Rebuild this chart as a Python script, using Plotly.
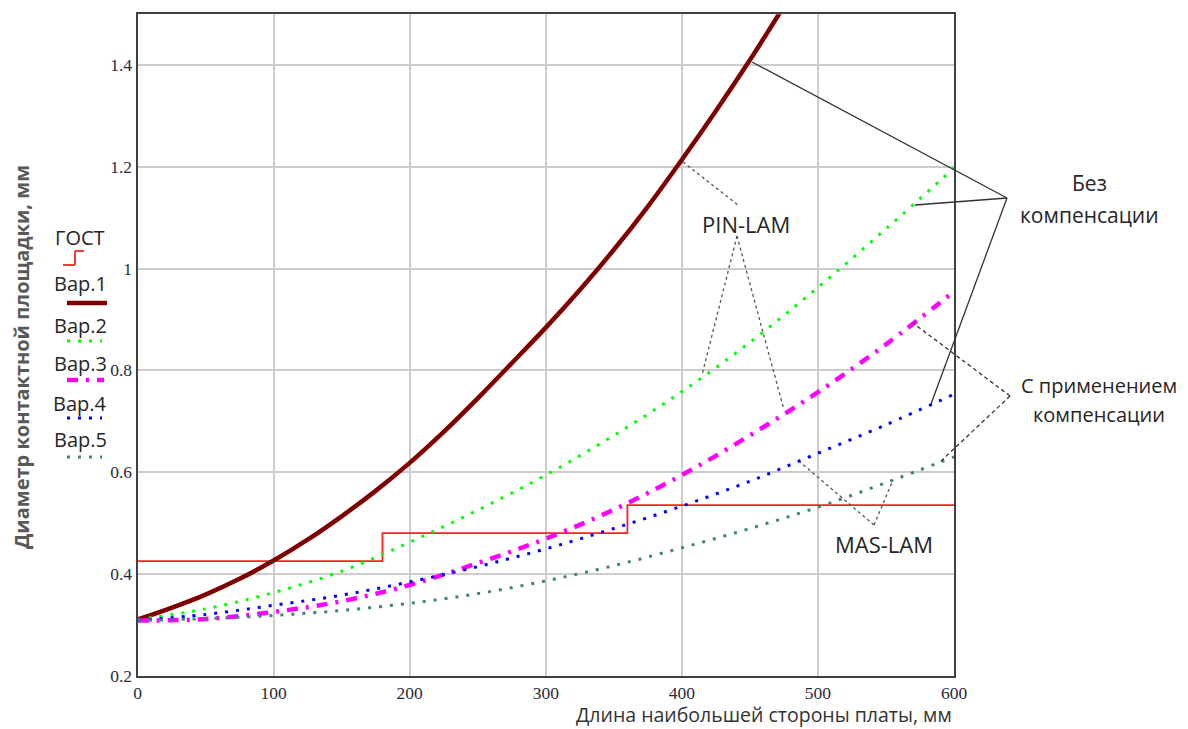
import plotly.graph_objects as go

# window is 1188x729, page body has an 8px margin -> figure drawn at offset 8
OFF = 8
W, H = 1180, 721

# ---------------- data ----------------
x_var1 = [0, 25, 50, 75, 100, 125, 150, 175, 200, 225, 250, 275, 300, 325,
          350, 375, 400, 425, 450, 475]
var1 = [0.310, 0.333, 0.359, 0.390, 0.426, 0.467, 0.513, 0.563, 0.618, 0.679,
        0.745, 0.814, 0.884, 0.958, 1.037, 1.122, 1.214, 1.310, 1.410, 1.516]

x_common = [0, 50, 100, 150, 200, 250, 300, 350, 400, 450, 500, 550, 600]
var2 = [0.310, 0.331, 0.363, 0.405, 0.462, 0.525, 0.594, 0.672, 0.758, 0.855, 0.963, 1.078, 1.198]
var3 = [0.308, 0.311, 0.325, 0.346, 0.378, 0.421, 0.469, 0.526, 0.594, 0.672, 0.757, 0.851, 0.955]
var4 = [0.308, 0.320, 0.338, 0.358, 0.384, 0.414, 0.449, 0.489, 0.533, 0.582, 0.637, 0.693, 0.753]
var5 = [0.308, 0.312, 0.318, 0.328, 0.342, 0.361, 0.386, 0.416, 0.451, 0.489, 0.531, 0.579, 0.630]

gost_x = [0, 180, 360, 600]
gost_y = [0.425, 0.480, 0.535, 0.535]

y_ticks = [0.2, 0.4, 0.6, 0.8, 1.0, 1.2, 1.4]
y_tick_text = ["0.2", "0.4", "0.6", "0.8", "1", "1.2", "1.4"]
x_ticks = [0, 100, 200, 300, 400, 500, 600]
x_tick_text = ["0", "100", "200", "300", "400", "500", "600"]

legend_names = ["ГОСТ", "Вар.1", "Вар.2", "Вар.3", "Вар.4", "Вар.5"]

# ---------------- styles ----------------
C_GOST = "#ff2020"
C1 = "#800000"
C2 = "#00ff00"
C3 = "#ff00ff"
C4 = "#0000ff"
C5 = "#408080"
DOTS = "3px,8px"
DASHDOT = "11px,8px,3px,8px"
TXT = "Open Sans"

# plot area in window pixels
PX0, PX1 = 137.5, 954.0
PY_TOP, PY_BOT = 14.3, 675.5


def px(x):
    return (x - OFF) / W


def py(y):
    return 1 - (y - OFF) / H


fig = go.Figure()
fig.add_trace(go.Scatter(x=gost_x, y=gost_y, mode="lines", line=dict(color=C_GOST, width=1.8, shape="hv")))
fig.add_trace(go.Scatter(x=x_var1, y=var1, mode="lines", line=dict(color=C1, width=4.5, shape="spline")))
fig.add_trace(go.Scatter(x=x_common, y=var2, mode="lines", line=dict(color=C2, width=3, dash=DOTS, shape="spline")))
fig.add_trace(go.Scatter(x=x_common, y=var3, mode="lines", line=dict(color=C3, width=4.5, dash=DASHDOT, shape="spline")))
fig.add_trace(go.Scatter(x=x_common, y=var4, mode="lines", line=dict(color=C4, width=3, dash=DOTS, shape="spline")))
fig.add_trace(go.Scatter(x=x_common, y=var5, mode="lines", line=dict(color=C5, width=3, dash=DOTS, shape="spline")))

shapes = []
annotations = []


def seg(x0, y0, x1, y1, dash="solid", width=1.3, color="#333333"):
    shapes.append(dict(type="line", xref="paper", yref="paper",
                       x0=px(x0), y0=py(y0), x1=px(x1), y1=py(y1),
                       line=dict(color=color, width=width, dash=dash)))


def text(t, x, y, size=20, color="#262626", bold=False, angle=0, yanchor="middle"):
    if bold:
        t = "<b>" + t + "</b>"
    annotations.append(dict(text=t, x=px(x), y=py(y), xref="paper", yref="paper",
                            showarrow=False, xanchor="center", yanchor=yanchor,
                            textangle=angle, borderpad=0,
                            font=dict(family=TXT, size=size, color=color)))


# ---- callout lines ----
# PIN-LAM
seg(683, 162, 738, 205, dash="dot", color="#555555")
seg(737, 236, 702, 375, dash="dot", color="#555555")
seg(737, 236, 784, 410, dash="dot", color="#555555")
# MAS-LAM
seg(874, 525, 800, 462, dash="dot", color="#555555")
seg(874, 525, 893, 480, dash="dot", color="#555555")
# Без компенсации
seg(1007, 198, 752, 62)
seg(1007, 198, 915, 205)
seg(1007, 198, 931, 404)
# С применением компенсации
seg(1010, 396, 913, 323, dash="4px,3px")
seg(1010, 396, 940, 462, dash="4px,3px")

text("PIN-LAM", 746, 224, size=22)
text("MAS-LAM", 884, 544, size=22)
text("Без", 1089, 183, size=21)
text("компенсации", 1089, 215, size=21)
text("С применением", 1099, 385, size=20)
text("компенсации", 1099, 414, size=20)

# ---- custom legend ----
legend_y = [237, 283, 325, 363, 403, 440]
for name, ly in zip(legend_names, legend_y):
    text(name, 80, ly, size=20)
# GOST step symbol
seg(63, 265, 75, 265, color=C_GOST, width=1.8)
seg(75, 265, 75, 251, color=C_GOST, width=1.8)
seg(75, 251, 84, 251, color=C_GOST, width=1.8)
seg(67, 303, 107, 303, color=C1, width=4.5)
seg(67, 341, 102, 341, color=C2, width=3, dash=DOTS)
seg(67, 380, 104, 380, color=C3, width=4.5, dash=DASHDOT)
seg(67, 418, 102, 418, color=C4, width=3, dash=DOTS)
seg(67, 457, 102, 457, color=C5, width=3, dash=DOTS)

# ---- axis titles ----
text("Диаметр контактной площадки, мм", 21, 357, size=20, color="#595959", bold=True, angle=-90)
text("Длина наибольшей стороны платы, мм", 764, 729, size=19.5, color="#333333", yanchor="bottom")

axis_common = dict(showline=True, linecolor="#404040", linewidth=2, mirror=True,
                   showgrid=True, gridcolor="#cccccc", gridwidth=1.5, zeroline=False,
                   automargin=False, ticks="",
                   tickfont=dict(family="Liberation Serif", size=17.5, color="#2a2a3a"))

fig.update_layout(
    width=W, height=H,
    autosize=False,
    margin=dict(l=0, r=0, t=0, b=0, pad=0, autoexpand=False),
    paper_bgcolor="white", plot_bgcolor="white",
    showlegend=False,
    xaxis=dict(domain=[px(PX0), px(PX1)], range=[0, 600], tickvals=x_ticks, ticktext=x_tick_text,
               ticklabelstandoff=0, **axis_common),
    yaxis=dict(domain=[py(PY_BOT), py(PY_TOP)], range=[0.2, 1.5], tickvals=y_ticks, ticktext=y_tick_text,
               **axis_common),
    shapes=shapes,
    annotations=annotations,
)

fig.write_html("out.html")
